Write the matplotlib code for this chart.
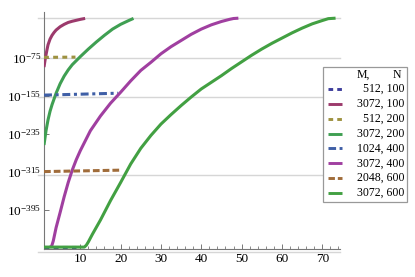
# Log-scale growth curves for several (M, N) pairs.
# y values are log10 of the quantity, plotted on a linear axis with 10^k labels.

import matplotlib
matplotlib.use("Agg")
from matplotlib import pyplot as plt
from matplotlib.lines import Line2D
from matplotlib.patches import Rectangle

plt.rcParams['font.family'] = 'Liberation Serif'
plt.rcParams['mathtext.fontset'] = 'custom'
plt.rcParams['mathtext.rm'] = 'Liberation Serif'
plt.rcParams['mathtext.it'] = 'Liberation Serif:italic'

# series data (x, log10 y)
x_512_100 = [1, 9]
y_512_100 = [-473, -473]

x_3072_100 = [1, 1.25, 1.5, 1.75, 2, 2.5, 3, 3.5, 4, 5, 6, 7, 8, 9, 10, 11.2]
y_3072_100 = [-94, -80, -68, -57, -47, -35, -27, -21, -16, -9, -4, 0, 2.5, 4.5, 6.5, 8.5]

x_512_200 = [1, 8.8]
y_512_200 = [-73.5, -73]

x_3072_200 = [1, 1.5, 2, 2.5, 3, 4, 5, 6, 7, 8, 10, 12, 14, 16, 18, 20, 22, 23.2]
y_3072_200 = [-258, -228, -205, -187, -173, -149, -129, -113, -100, -89, -72, -56, -41, -27, -14, -4, 4, 8.5]

x_1024_400 = [1, 19.4]
y_1024_400 = [-153, -149]

x_3072_400 = [2.5, 2.9, 3.3, 3.7, 4, 4.5, 5, 6, 7, 8, 9, 10, 12.5, 15, 17.5, 20, 22.5, 25,
              27.5, 30, 32.5, 35, 37.5, 40, 42.5, 45, 47, 48, 49.2]
y_3072_400 = [-473, -471, -460, -444, -432, -416, -400, -367, -337, -311, -289, -270, -228,
              -197, -170, -147, -123, -101, -84, -66, -51, -38, -25, -14, -5, 2, 6.5, 8.3, 9]

x_2048_600 = [1, 20]
y_2048_600 = [-314, -311]

x_3072_600 = [1, 11, 11.5, 12, 13, 14, 15, 17.5, 20, 22.5, 25, 27.5, 30, 32.5, 35, 37.5, 40,
              42.5, 45, 47.5, 50, 52.5, 55, 57.5, 60, 62.5, 65, 67.5, 70, 71.5, 73.3]
y_3072_600 = [-473, -473, -469, -462, -446, -431, -416, -375, -337, -298, -265, -238, -214,
              -194, -175, -157, -140, -126, -112, -97, -83, -69, -56, -44, -33, -22, -12,
              -3, 4, 8, 9]

labels = ['512, 100', '3072, 100', '512, 200', '3072, 200',
          '1024, 400', '3072, 400', '2048, 600', '3072, 600']
colors = ['#3e3e9c', '#9c3a6c', '#9e9240', '#3f9f52',
          '#3f5fa6', '#a03fa0', '#a06c3a', '#42a042']
styles = [(0, (1.6, 1.4)), '-', (0, (1.6, 1.4)), '-',
          (0, (2.6, 1.2, 1.0, 1.2)), '-', (0, (2.2, 1.0)), '-']

series = [(x_512_100, y_512_100), (x_3072_100, y_3072_100), (x_512_200, y_512_200),
          (x_3072_200, y_3072_200), (x_1024_400, y_1024_400), (x_3072_400, y_3072_400),
          (x_2048_600, y_2048_600), (x_3072_600, y_3072_600)]

y_ticks = [-75, -155, -235, -315, -395]
y_tick_labels = [r'$10^{-75}$', r'$10^{-155}$', r'$10^{-235}$', r'$10^{-315}$', r'$10^{-395}$']
x_ticks = [10, 20, 30, 40, 50, 60, 70]
grid_y = [9, -75, -157, -321, -483]

W, H = 415, 277
fig = plt.figure(figsize=(W / 100, H / 100), dpi=100)
ax = fig.add_axes([44 / W, 28 / H, 296 / W, 237 / H])
ax.set_xlim(1, 74.4)
ax.set_ylim(-477, 22)

for g in grid_y:
    ax.axhline(g, xmin=-0.02, xmax=1.0, color='#d6d6d6', lw=1.0, zorder=0, clip_on=False)

for (xs, ys), c, ls in zip(series, colors, styles):
    ax.plot(xs, ys, color=c, ls=ls, lw=2.2, solid_capstyle='butt', zorder=3)

for s in ['top', 'right']:
    ax.spines[s].set_visible(False)
for s in ['left', 'bottom']:
    ax.spines[s].set_color('#777777')
    ax.spines[s].set_linewidth(0.8)

ax.set_yticks(y_ticks)
ax.set_yticklabels(y_tick_labels)
ax.set_xticks(x_ticks)
ax.set_xticklabels([str(t) for t in x_ticks])
ax.set_xticks(range(2, 75, 2), minor=True)
ax.tick_params(axis='both', which='major', direction='in', length=3.5, width=0.7,
               color='#777777', labelsize=9.5, pad=3)
ax.tick_params(axis='x', which='minor', direction='in', length=2, width=0.6, color='#777777')
ax.tick_params(axis='y', which='major', pad=2)

# legend box drawn by hand so the labels can be right aligned
fig.add_artist(Rectangle((323 / W, 1 - 202 / H), 84 / W, 135 / H, transform=fig.transFigure,
                         facecolor='white', edgecolor='#999999', lw=0.9, zorder=5))
fig.text(357 / W, 1 - 75 / H, 'M,', fontsize=8.5, ha='left', va='center', zorder=6)
fig.text(401 / W, 1 - 75 / H, 'N', fontsize=8.5, ha='right', va='center', zorder=6)
for i, (lab, c, ls) in enumerate(zip(labels, colors, styles)):
    yy = 1 - (89 + i * 14.86) / H
    fig.add_artist(Line2D([328 / W, 342 / W], [yy, yy], transform=fig.transFigure,
                          color=c, ls=ls, lw=2.1, solid_capstyle='butt', zorder=6))
    fig.text(404 / W, yy, lab, fontsize=8.5, ha='right', va='center', zorder=6)

fig.savefig('out.png', dpi=100)
